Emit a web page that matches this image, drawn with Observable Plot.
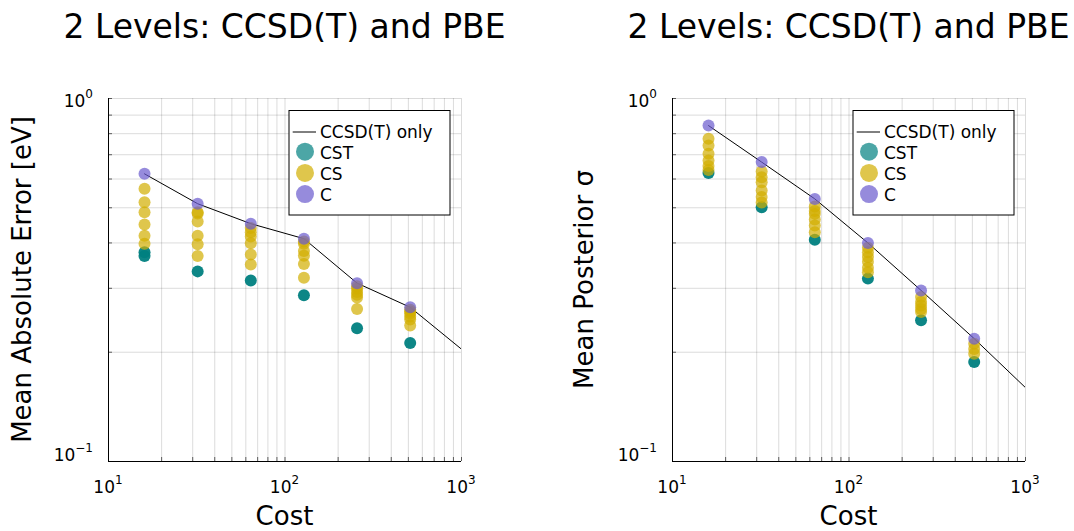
<!DOCTYPE html>
<html><head><meta charset="utf-8">
<script src="https://cdn.jsdelivr.net/npm/d3@7"></script>
<script src="https://cdn.jsdelivr.net/npm/@observablehq/plot@0.6"></script>
<style>
body{margin:0;background:#fff;}
#wrap{display:flex;width:1074px;height:531px;overflow:hidden;}
svg{display:block;}
</style></head><body><div id="wrap"></div>
<script>
// ---------- shared categories / labels ----------
const cost = [16, 32, 64, 128, 256, 512];
const lineCost = [16, 32, 64, 128, 256, 512, 1024];
const seriesNames = ["CCSD(T) only", "CST", "CS", "C"];
const seriesColors = ["#000000", "#008080", "#d2ae00", "#6a5acd"];
const xTickValues = [10, 100, 1000];
const yTickValues = [0.1, 1];
const panelTitles = ["2 Levels: CCSD(T) and PBE", "2 Levels: CCSD(T) and PBE"];
const yLabels = ["Mean Absolute Error [eV]", "Mean Posterior σ"];
const xLabel = "Cost";

// ---------- left panel: mean absolute error ----------
const maeCCSD = [0.620, 0.513, 0.452, 0.411, 0.310, 0.266, 0.202];
const maeC = [0.620, 0.513, 0.452, 0.411, 0.310, 0.266];
const maeCS = [
  [0.564, 0.518, 0.486, 0.450, 0.419, 0.398],
  [0.486, 0.482, 0.458, 0.419, 0.397, 0.368],
  [0.440, 0.428, 0.417, 0.399, 0.372, 0.349],
  [0.404, 0.398, 0.380, 0.369, 0.350, 0.321],
  [0.304, 0.299, 0.293, 0.288, 0.283, 0.263],
  [0.262, 0.259, 0.256, 0.251, 0.246, 0.237]
];
const maeCST = [[0.377, 0.368], [0.334], [0.315], [0.287], [0.233], [0.212]];

// ---------- right panel: mean posterior sigma ----------
const sigmaCCSD = [0.842, 0.668, 0.529, 0.400, 0.296, 0.218, 0.158];
const sigmaC = [0.842, 0.668, 0.529, 0.400, 0.296, 0.218];
const sigmaCS = [
  [0.775, 0.742, 0.704, 0.675, 0.652, 0.635],
  [0.629, 0.607, 0.588, 0.558, 0.535, 0.517],
  [0.504, 0.490, 0.481, 0.464, 0.447, 0.428],
  [0.388, 0.377, 0.366, 0.355, 0.342, 0.332],
  [0.284, 0.275, 0.269, 0.263, 0.258],
  [0.211, 0.204, 0.198]
];
const sigmaCST = [[0.623], [0.502], [0.408], [0.319], [0.245], [0.188]];

// ---------- helpers ----------
const xMinor = [];
for (const d of [10, 100]) for (let k = 1; k <= 9; k++) xMinor.push(k * d);
xMinor.push(1000);
const yMinor = [];
for (let k = 1; k <= 10; k++) yMinor.push(k / 10);

function flat(cols) {
  const out = [];
  cols.forEach((arr, i) => arr.forEach(v => out.push({cost: cost[i], value: v})));
  return out;
}
const pts = (xs, ys) => ys.map((v, i) => ({cost: xs[i], value: v}));

function supLabel(sel, v) {
  const e = Math.round(Math.log10(v));
  sel.append("tspan").attr("font-size", 17).text("10");
  sel.append("tspan").attr("font-size", 12).attr("dy", "-0.75em").text(String(e).replace("-", "\u2212"));
}

function panel(cfg) {
  const H = 531, mT = 98, mB = 70;
  const chart = Plot.plot({
    width: cfg.width, height: H,
    marginLeft: cfg.mL, marginRight: cfg.mR, marginTop: mT, marginBottom: mB,
    style: {fontFamily: "DejaVu Sans", fontSize: "17px", background: "white", color: "black", overflow: "visible"},
    x: {type: "log", domain: [10, 1000], label: null},
    y: {type: "log", domain: [0.1, 1], label: null},
    marks: [
      Plot.gridX(xMinor, {stroke: "#000", strokeOpacity: 0.14, strokeWidth: 1}),
      Plot.gridY(yMinor, {stroke: "#000", strokeOpacity: 0.14, strokeWidth: 1}),
      Plot.axisX(xMinor, {tickSize: -4, tickFormat: () => "", label: null, strokeOpacity: 0.6}),
      Plot.axisY(yMinor, {tickSize: -4, tickFormat: () => "", label: null, strokeOpacity: 0.6}),
      Plot.ruleX([10], {stroke: "#000", strokeWidth: 1}),
      Plot.ruleY([0.1], {stroke: "#000", strokeWidth: 1}),
      Plot.line(pts(lineCost, cfg.line), {x: "cost", y: "value", stroke: seriesColors[0], strokeWidth: 1, clip: true}),
      Plot.dot(flat(cfg.cst), {x: "cost", y: "value", r: 6, fill: seriesColors[1], fillOpacity: 0.95, stroke: "none"}),
      Plot.dot(flat(cfg.cs), {x: "cost", y: "value", r: 6, fill: seriesColors[2], fillOpacity: 0.7, stroke: "none"}),
      Plot.dot(pts(cost, cfg.c), {x: "cost", y: "value", r: 6, fill: seriesColors[3], fillOpacity: 0.7, stroke: "none"})
    ]
  });

  const sx = chart.scale("x"), sy = chart.scale("y");
  const svg = d3.select(chart);
  const fx0 = cfg.mL, fx1 = cfg.width - cfg.mR;
  const fyBottom = H - mB;

  // tick labels (powers of ten) placed with the plot's own scales
  const tl = svg.append("g").attr("fill", "#000").style("font-size", "17px");
  xTickValues.forEach(v => {
    const t = tl.append("text").attr("x", sx.apply(v)).attr("y", fyBottom + 32).attr("text-anchor", "middle");
    supLabel(t, v);
  });
  yTickValues.forEach(v => {
    const t = tl.append("text").attr("x", fx0 - 15).attr("y", sy.apply(v) + (v >= 1 ? 9 : 0)).attr("text-anchor", "end");
    supLabel(t, v);
  });

  const cx = (fx0 + fx1) / 2;
  svg.append("text").attr("x", cx).attr("y", 38).attr("text-anchor", "middle")
    .attr("font-size", 33).attr("fill", "#000").text(cfg.title);
  svg.append("text").attr("x", cx).attr("y", 525).attr("text-anchor", "middle")
    .attr("font-size", 26).attr("fill", "#000").text(xLabel);
  svg.append("text").attr("transform", `translate(${cfg.yLabelX},${(mT + fyBottom) / 2}) rotate(-90)`)
    .attr("text-anchor", "middle").attr("font-size", 26).attr("fill", "#000").text(cfg.yLabel);

  // legend
  const lw = 161, lh = 104.5;
  const lx = fx1 - 11 - lw, ly = 110.5;
  const g = svg.append("g").attr("font-size", 17).attr("text-anchor", "start");
  g.append("rect").attr("x", lx).attr("y", ly).attr("width", lw).attr("height", lh)
    .attr("fill", "white").attr("stroke", "#000").attr("stroke-width", 1);
  g.append("line").attr("x1", lx + 3.7).attr("x2", lx + 27).attr("y1", ly + 21.5).attr("y2", ly + 21.5)
    .attr("stroke", seriesColors[0]).attr("stroke-width", 1);
  g.append("text").attr("x", lx + 31).attr("y", ly + 27).attr("text-anchor", "start").text(seriesNames[0]);
  [1, 2, 3].forEach((k, i) => {
    const cy = ly + 41.2 + i * 21.2;
    g.append("circle").attr("cx", lx + 16).attr("cy", cy).attr("r", 9)
      .attr("fill", seriesColors[k]).attr("fill-opacity", 0.7);
    g.append("text").attr("x", lx + 31).attr("y", cy + 7).attr("text-anchor", "start").text(seriesNames[k]);
  });
  return chart;
}

const wrap = document.getElementById("wrap");
wrap.appendChild(panel({width: 537, mL: 108, mR: 76, title: panelTitles[0], yLabel: yLabels[0], yLabelX: 31,
  line: maeCCSD, c: maeC, cs: maeCS, cst: maeCST}));
wrap.appendChild(panel({width: 537, mL: 135, mR: 49, title: panelTitles[1], yLabel: yLabels[1], yLabelX: 56,
  line: sigmaCCSD, c: sigmaC, cs: sigmaCS, cst: sigmaCST}));
</script></body></html>
